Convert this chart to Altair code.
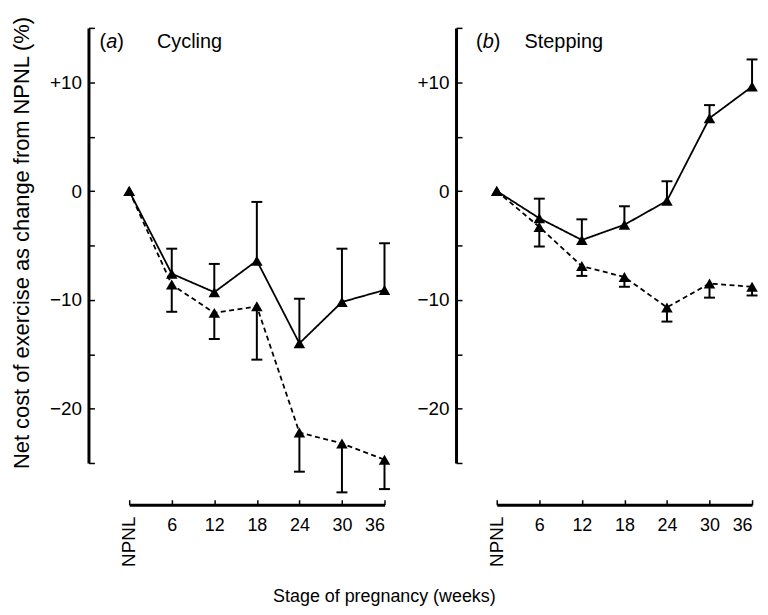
import altair as alt
import pandas as pd

# ---------------- data ----------------
weeks = [0, 6, 12, 18, 24, 30, 36]
week_labels = ["NPNL", "6", "12", "18", "24", "30", "36"]

cyc_solid = [0, -7.6, -9.3, -6.4, -14.0, -10.2, -9.1]
cyc_solid_err = [None, -5.3, -6.7, -1.0, -9.9, -5.3, -4.8]
cyc_dashed = [0, -8.6, -11.2, -10.6, -22.2, -23.2, -24.7]
cyc_dashed_err = [None, -11.1, -13.6, -15.5, -25.8, -27.7, -27.4]

step_solid = [0, -2.5, -4.5, -3.1, -0.9, 6.7, 9.6]
step_solid_err = [None, -0.7, -2.6, -1.4, 0.9, 7.9, 12.1]
step_dashed = [0, -3.3, -6.9, -7.9, -10.7, -8.5, -8.8]
step_dashed_err = [None, -5.1, -7.8, -8.8, -12.0, -9.8, -9.6]

y_ticks = [-25, -20, -15, -10, -5, 0, 5, 10, 15]
y_title = "Net cost of exercise as change from NPNL (%)"
x_title = "Stage of pregnancy (weeks)"

FONT = "Liberation Sans"
W, H = 257, 438
OFF = 42


def make_df(solid, solid_err, dashed, dashed_err):
    rows = []
    for w, v, e in zip(weeks, solid, solid_err):
        rows.append({"week": w, "value": v, "err": e, "series": "solid"})
    for w, v, e in zip(weeks, dashed, dashed_err):
        rows.append({"week": w, "value": v, "err": e, "series": "dashed"})
    return pd.DataFrame(rows)


def panel(df, letter, name, show_title, lx, nx):
    x_axis = alt.Axis(
        orient="top",
        offset=-(H + OFF),
        values=weeks,
        tickSize=5,
        tickWidth=1.5,
        domainWidth=3,
        domainColor="black",
        tickColor="black",
        labelExpr="datum.value == 0 ? '' : datum.label",
        labelBaseline="top",
        labelPadding=-17,
        labelFontSize=18,
        labelFont=FONT,
        labelColor="black",
        grid=False,
        title=None,
    )
    x_scale = alt.Scale(domain=[0, 36], nice=False, zero=False)
    yaxis_kwargs = dict(
        orient="right",
        offset=-(W + 41),
        values=y_ticks,
        tickSize=6,
        tickWidth=1.5,
        domainWidth=3,
        domainColor="black",
        tickColor="black",
        labelExpr="datum.value == 10 ? '+10' : (datum.value % 10 == 0 ? datum.label : '')",
        labelAlign="right",
        labelBaseline="middle",
        labelPadding=-13,
        labelFontSize=19,
        labelFont=FONT,
        labelColor="black",
        grid=False,
    )
    if show_title:
        yaxis_kwargs.update(
            title=y_title,
            titleAngle=270,
            titleX=-67,
            titleY=H / 2 - 3,
            titleAlign="center",
            titleBaseline="middle",
            titleFontSize=22,
            titleFont=FONT,
            titleFontWeight="normal",
            titleColor="black",
        )
    else:
        yaxis_kwargs.update(title=None)
    y_axis = alt.Axis(**yaxis_kwargs)
    y_scale = alt.Scale(domain=[-25, 15], nice=False, zero=False)

    xs = alt.X("week:Q", scale=x_scale, axis=x_axis)
    ys = alt.Y("value:Q", scale=y_scale, axis=y_axis)
    ye = alt.Y("err:Q", scale=y_scale, axis=y_axis)

    base = alt.Chart(df)
    line = base.mark_line(color="black", strokeWidth=1.8).encode(
        x=xs,
        y=ys,
        detail="series:N",
        strokeDash=alt.StrokeDash(
            "series:N",
            scale=alt.Scale(domain=["solid", "dashed"], range=[[1, 0], [5, 3.5]]),
            legend=None,
        ),
    )
    err = base.transform_filter("datum.err != null").mark_rule(
        color="black", strokeWidth=2
    ).encode(x=xs, y=ys, y2="err:Q")
    cap = base.transform_filter("datum.err != null").mark_tick(
        orient="horizontal", color="black", thickness=2, size=11, opacity=1
    ).encode(x=xs, y=ye)
    pts = base.mark_point(
        shape="triangle-up", filled=True, size=135, color="black", opacity=1
    ).encode(x=xs, y=ys)

    npnl = alt.Chart(pd.DataFrame({"week": [0], "label": [week_labels[0]]})).mark_text(
        angle=270, align="right", baseline="middle", fontSize=19, font=FONT, color="black"
    ).encode(x=xs, y=alt.value(H + OFF + 12), text="label:N")

    title_df = pd.DataFrame(
        {
            "t": ["(", letter, ")", name],
            "px": [lx, lx + 7, lx + 18, nx],
            "style": ["normal", "italic", "normal", "normal"],
        }
    )
    ttl = []
    for i in range(4):
        ttl.append(
            alt.Chart(title_df.iloc[[i]]).mark_text(
                align="left",
                baseline="middle",
                fontSize=20,
                font=FONT,
                color="black",
                fontStyle=title_df["style"].iloc[i],
            ).encode(x=alt.value(title_df["px"].iloc[i]), y=alt.value(14), text="t:N")
        )

    return alt.layer(line, err, cap, pts, npnl, *ttl).properties(width=W, height=H)


df_a = make_df(cyc_solid, cyc_solid_err, cyc_dashed, cyc_dashed_err)
df_b = make_df(step_solid, step_solid_err, step_dashed, step_dashed_err)

pa = panel(df_a, "a", "Cycling", True, -30, 28)
pb = panel(df_b, "b", "Stepping", False, -21, 28)

chart = (
    alt.hconcat(pa, pb, spacing=26)
    .properties(
        title=alt.TitleParams(
            x_title, orient="bottom", anchor="middle", fontSize=18, font=FONT,
            fontWeight="normal", color="black", offset=21,
        ),
        padding={"left": 2, "top": 5, "right": 2, "bottom": 5},
    )
    .configure(font=FONT)
    .configure_view(stroke="transparent", strokeWidth=0)
)

chart.save("out.html", embed_options={"renderer": "svg", "actions": False})
